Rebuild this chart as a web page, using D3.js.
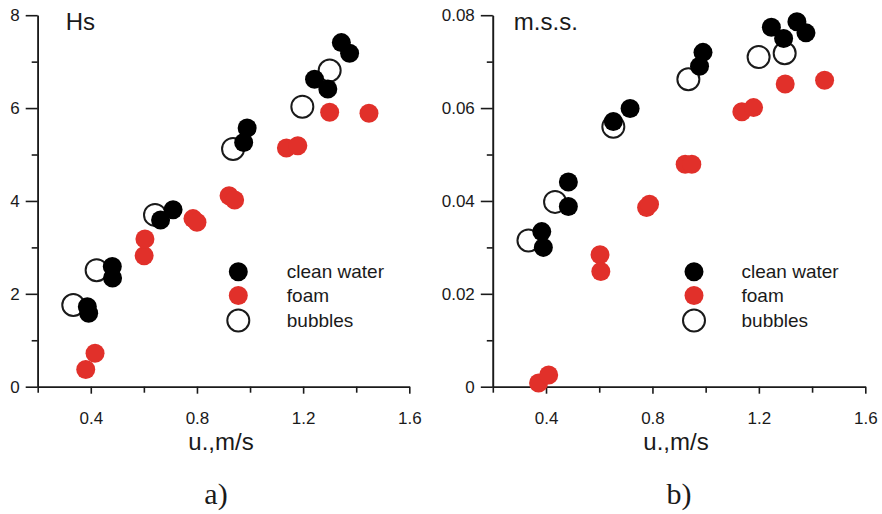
<!DOCTYPE html>
<html>
<head>
<meta charset="utf-8">
<script src="https://cdn.jsdelivr.net/npm/d3@7"></script>
<style>
  html, body { margin: 0; padding: 0; background: #fff; }
  svg text { font-family: "Liberation Sans", Arial, sans-serif; fill: #1a1a1a; }
</style>
</head>
<body>
<svg id="chart" width="882" height="514"></svg>
<script>
// Friction velocity u* (m/s) versus significant wave height Hs
const hsClean = [[0.387,1.72],[0.392,1.58],[0.481,2.59],[0.482,2.34],[0.663,3.59],[0.710,3.81],
                 [0.976,5.26],[0.989,5.57],[1.243,6.62],[1.293,6.41],[1.344,7.41],[1.375,7.18]];
const hsFoam = [[0.381,0.37],[0.416,0.72],[0.601,2.82],[0.604,3.18],[0.785,3.62],[0.800,3.54],
                [0.921,4.11],[0.942,4.02],[1.137,5.14],[1.180,5.19],[1.300,5.91],[1.448,5.89]];
const hsBubbles = [[0.334,1.76],[0.422,2.51],[0.642,3.70],[0.936,5.12],[1.197,6.03],[1.300,6.81]];

// Friction velocity u* (m/s) versus mean square slope
const mssClean = [[0.384,0.0334],[0.390,0.0300],[0.484,0.0441],[0.484,0.0388],[0.653,0.0571],[0.716,0.0599],
                  [0.977,0.0690],[0.990,0.0720],[1.247,0.0774],[1.293,0.0750],[1.343,0.0786],[1.377,0.0762]];
const mssFoam = [[0.372,0.0008],[0.410,0.0025],[0.603,0.0284],[0.606,0.0248],[0.778,0.0386],[0.789,0.0393],
                 [0.923,0.0479],[0.948,0.0479],[1.136,0.0592],[1.180,0.0601],[1.299,0.0652],[1.447,0.0660]];
const mssBubbles = [[0.334,0.0315],[0.434,0.0398],[0.653,0.0560],[0.935,0.0662],[1.199,0.0710],[1.297,0.0718]];

const uMajorTicks = [0.4, 0.8, 1.2, 1.6];
const uMinorTicks = [0.2, 0.6, 1.0, 1.4];
const hsMajorTicks = [0, 2, 4, 6, 8];
const hsMinorTicks = [1, 3, 5, 7];
const mssMajorTicks = [0, 0.02, 0.04, 0.06, 0.08];
const mssMinorTicks = [0.01, 0.03, 0.05, 0.07];
const legendLabels = ["clean water", "foam", "bubbles"];
const xTitle = "u.,m/s";

const RED = "#e1302a";
const INK = "#1a1a1a";

const svg = d3.select("#chart");

function panel(opts) {
  const g = svg.append("g");
  const x = d3.scaleLinear().domain([0.2, 1.6]).range(opts.xRange);
  const y = d3.scaleLinear().domain(opts.yDomain).range([386.7, 15.2]);

  // axes: major ticks with labels, minor ticks without
  const xMajor = d3.axisBottom(x).tickValues(uMajorTicks).tickSize(7).tickPadding(18)
    .tickFormat(d3.format(".1f")).tickSizeOuter(0);
  const xMinor = d3.axisBottom(x).tickValues(uMinorTicks).tickSize(6).tickFormat("").tickSizeOuter(0);
  const yMajor = d3.axisLeft(y).tickValues(opts.yMajor).tickSize(12).tickPadding(6)
    .tickFormat(opts.yFormat).tickSizeOuter(0);
  const yMinor = d3.axisLeft(y).tickValues(opts.yMinor).tickSize(6).tickFormat("").tickSizeOuter(0);

  const axY = 386.7, axX = opts.xRange[0];
  [xMajor, xMinor].forEach(a => g.append("g").attr("transform", `translate(0,${axY})`).call(a));
  [yMajor, yMinor].forEach(a => g.append("g").attr("transform", `translate(${axX},0)`).call(a));
  g.selectAll(".domain, .tick line").attr("stroke", INK).attr("stroke-width", 1.6);
  g.selectAll(".tick text").attr("font-size", 17).attr("fill", INK)
    .style("font-family", '"Liberation Sans", Arial, sans-serif');

  // markers: bubbles underneath, then clean water, then foam
  g.append("g").selectAll("circle").data(opts.bubbles).join("circle")
    .attr("cx", d => x(d[0])).attr("cy", d => y(d[1])).attr("r", 11)
    .attr("fill", "none").attr("stroke", INK).attr("stroke-width", 2);
  g.append("g").selectAll("circle").data(opts.clean).join("circle")
    .attr("cx", d => x(d[0])).attr("cy", d => y(d[1])).attr("r", 9.5).attr("fill", "#000");
  g.append("g").selectAll("circle").data(opts.foam).join("circle")
    .attr("cx", d => x(d[0])).attr("cy", d => y(d[1])).attr("r", 9.5).attr("fill", RED);

  // panel title
  g.append("text").attr("x", axX + opts.titleDx).attr("y", 29.5)
    .attr("font-size", 24).text(opts.title);

  // legend
  const lg = g.append("g").attr("transform", `translate(${opts.legendX},0)`);
  const rows = [271.7, 295.5, 320.5];
  lg.append("circle").attr("cx", 0).attr("cy", rows[0]).attr("r", 9.5).attr("fill", "#000");
  lg.append("circle").attr("cx", 0).attr("cy", rows[1]).attr("r", 9.5).attr("fill", RED);
  lg.append("circle").attr("cx", 0).attr("cy", rows[2]).attr("r", 11)
    .attr("fill", "none").attr("stroke", INK).attr("stroke-width", 2);
  legendLabels.forEach((t, i) => {
    lg.append("text").attr("x", opts.legendTextDx).attr("y", rows[i] + 6.5)
      .attr("font-size", 19).text(t);
  });

  // x axis title and panel letter
  const cx = (opts.xRange[0] + opts.xRange[1]) / 2 - 2;
  g.append("text").attr("x", opts.xTitleX).attr("y", 449.5).attr("text-anchor", "middle")
    .attr("font-size", 24).text(xTitle);
  g.append("text").attr("x", opts.letterX).attr("y", 503.5).attr("text-anchor", "middle")
    .attr("font-size", 30).style("font-family", '"Liberation Serif", "Times New Roman", serif')
    .text(opts.letter);
}

panel({
  xRange: [37.7, 409.3], yDomain: [0, 8],
  yMajor: hsMajorTicks, yMinor: hsMinorTicks, yFormat: d3.format("d"),
  clean: hsClean, foam: hsFoam, bubbles: hsBubbles,
  title: "Hs", titleDx: 28, legendX: 238.3, legendTextDx: 48.5,
  xTitleX: 221, letterX: 216, letter: "a)"
});

panel({
  xRange: [492.8, 865.3], yDomain: [0, 0.08],
  yMajor: mssMajorTicks, yMinor: mssMinorTicks,
  yFormat: d => d === 0 ? "0" : d3.format(".2f")(d),
  clean: mssClean, foam: mssFoam, bubbles: mssBubbles,
  title: "m.s.s.", titleDx: 21, legendX: 694, legendTextDx: 47.5,
  xTitleX: 676, letterX: 679, letter: "b)"
});
</script>
</body>
</html>
